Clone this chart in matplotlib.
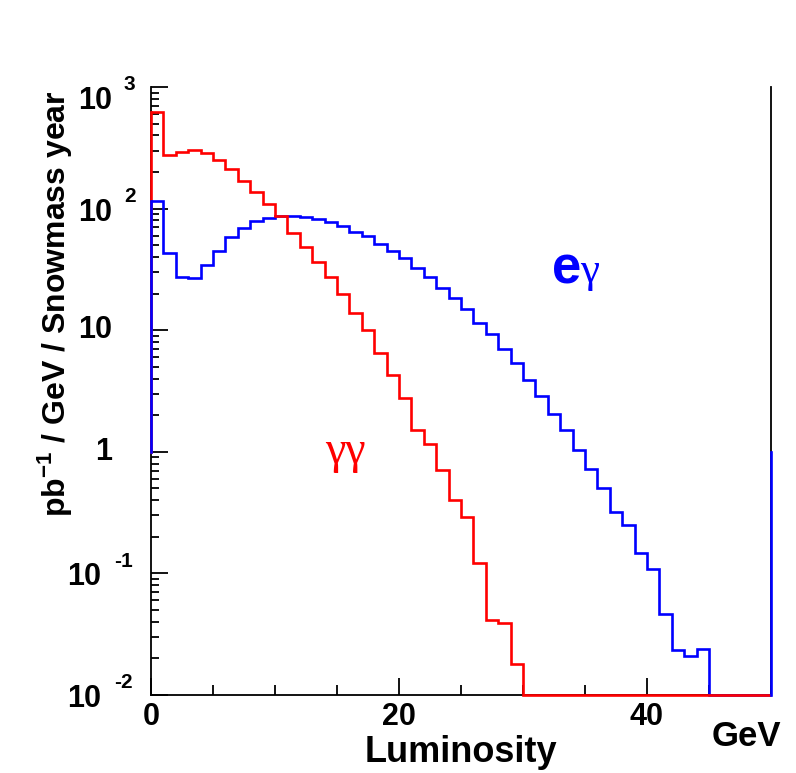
import numpy as np
import matplotlib.pyplot as plt
from matplotlib.ticker import LogLocator, NullFormatter, MultipleLocator

# histogram contents, 1 GeV bins from 0 to 50 GeV
edges = np.arange(0, 51, 1)
gg_lumi = [627, 275, 293, 303, 284, 250, 211, 169, 138, 110,
           87, 63.5, 48.7, 36.6, 27.6, 20.0, 13.9, 10.0, 6.53, 4.25,
           2.78, 1.52, 1.15, 0.705, 0.403, 0.291, 0.122, 0.0415, 0.0389, 0.018,
           0, 0, 0, 0, 0, 0, 0, 0, 0, 0,
           0, 0, 0, 0, 0, 0, 0, 0, 0, 0]
eg_lumi = [116, 43.5, 27.6, 27.1, 34.2, 44.8, 58.5, 69.0, 78.8, 83.8,
           87.1, 87.0, 85.7, 82.6, 78.0, 71.6, 64.8, 59.6, 51.5, 44.8,
           39.0, 32.7, 27.6, 22.4, 18.5, 14.8, 11.5, 9.23, 6.95, 5.33,
           3.88, 2.87, 2.06, 1.50, 1.04, 0.728, 0.505, 0.320, 0.251, 0.147,
           0.108, 0.0464, 0.0235, 0.0210, 0.0238, 0, 0, 0, 0, 0]

y_ticks = [1e-2, 1e-1, 1, 10, 1e2, 1e3]
y_bases = ["10", "10", "1", "10", "10", "10"]
y_exps = ["-2", "-1", "", "", "2", "3"]
x_ticks = [0, 20, 40]

YMIN, YMAX = 1e-2, 1e3
BASE = 1.0  # level the outer bin edges start from

plt.rcParams['font.family'] = ['Liberation Sans', 'DejaVu Sans']
plt.rcParams['font.weight'] = 'bold'
plt.rcParams['mathtext.fontset'] = 'custom'
plt.rcParams['mathtext.rm'] = 'Liberation Sans:bold'
plt.rcParams['mathtext.bf'] = 'Liberation Sans:bold'

fig = plt.figure(figsize=(7.96, 7.73), dpi=100)
L, R, T, B = 151, 771, 87, 695
W, H = 796, 773
ax = fig.add_axes([L / W, 1 - B / H, (R - L) / W, (B - T) / H])
DEC = (B - T) / 5.0  # pixels per decade


def ax_x(px):
    return (px - L) / (R - L)


def ax_y(py):
    return (B - py) / (B - T)


gg = np.clip(np.array(gg_lumi, dtype=float), YMIN, None)
eg = np.clip(np.array(eg_lumi, dtype=float), YMIN, None)

lw = 1.9
ax.stairs(gg, edges, baseline=None, color='#ff0000', lw=lw, zorder=4, clip_on=False)
ax.stairs(eg, edges, baseline=None, color='#0000ff', lw=lw, zorder=3, clip_on=False)
# outer edges of both histograms
ax.plot([edges[0], edges[0]], [BASE, gg[0]], color='#ff0000', lw=lw, zorder=2, clip_on=False)
ax.plot([edges[-1], edges[-1]], [eg[-1], BASE], color='#0000ff', lw=lw, zorder=5, clip_on=False)
ax.plot([edges[0], edges[0]], [BASE, eg[0]], color='#0000ff', lw=lw, zorder=5, clip_on=False)

ax.set_yscale('log')
ax.set_xlim(0, 50)
ax.set_ylim(YMIN, YMAX)

ax.spines['top'].set_visible(False)
for s in ['left', 'bottom', 'right']:
    ax.spines[s].set_linewidth(1.3)
    ax.spines[s].set_zorder(1)

ax.set_xticks(x_ticks)
ax.set_xticklabels([str(v) for v in x_ticks], fontsize=22, fontweight='bold')
ax.xaxis.set_minor_locator(MultipleLocator(5))
ax.tick_params(axis='x', which='major', direction='in', length=12, width=1.3, pad=5)
ax.tick_params(axis='x', which='minor', direction='in', length=7, width=1.3)

ax.set_yticks(y_ticks)
ax.set_yticklabels([])
ax.yaxis.set_minor_locator(LogLocator(base=10, subs=np.arange(2, 10), numticks=20))
ax.yaxis.set_minor_formatter(NullFormatter())
ax.tick_params(axis='y', which='major', direction='in', length=12, width=1.3)
ax.tick_params(axis='y', which='minor', direction='in', length=6, width=1.3)
ax.tick_params(right=False, top=False, which='both')

# ROOT style log labels: "10" with a detached exponent
ytr = ax.get_yaxis_transform()
for val, base, ex in zip(y_ticks, y_bases, y_exps):
    if not ex:
        ax.text(ax_x(112), val, base, transform=ytr, ha='right', va='center',
                fontsize=22, fontweight='bold')
        continue
    neg = ex.startswith('-')
    bx = 101 if neg else 112
    exx = 114 if neg else 124
    shift = 14 if val == YMAX else 4   # top label sits lower, inside the pad
    ax.text(ax_x(bx), val * 10 ** (-shift / DEC), base, transform=ytr, ha='right',
            va='center', fontsize=22, fontweight='bold')
    ax.text(ax_x(exx), val * 10 ** ((16 - shift) / DEC), ex, transform=ytr, ha='left',
            va='center', fontsize=15, fontweight='bold')

ax.text(ax_x(55), ax_y(90), r'pb$^{-1}$ / GeV / Snowmass year', transform=ax.transAxes,
        rotation=90, ha='center', va='top', fontsize=23, fontweight='bold')
ax.text(0.5, ax_y(735), 'Luminosity', transform=ax.transAxes, ha='center', va='top',
        fontsize=26, fontweight='bold')
ax.text(ax_x(781), ax_y(720), 'GeV', transform=ax.transAxes, ha='right', va='top',
        fontsize=25, fontweight='bold')

ax.text(ax_x(552), ax_y(270), 'e', transform=ax.transAxes, ha='left', va='center',
        fontsize=38, fontweight='bold', color='#0000ff')
ax.text(ax_x(580), ax_y(272), 'γ', transform=ax.transAxes, ha='left', va='center',
        fontsize=31, fontweight='normal', color='#0000ff', family='Liberation Serif')
ax.text(ax_x(325), ax_y(452), 'γγ', transform=ax.transAxes, ha='left', va='center',
        fontsize=33, fontweight='normal', color='#ff0000', family='Liberation Serif')

fig.savefig('out.png', dpi=100)
